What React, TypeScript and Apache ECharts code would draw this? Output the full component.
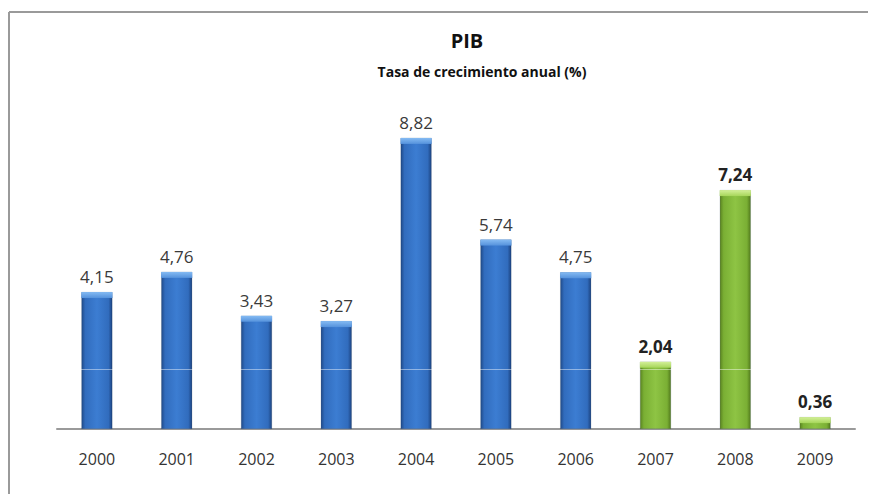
import React, { useEffect, useRef } from "react";
import * as echarts from "echarts";

const years = ["2000", "2001", "2002", "2003", "2004", "2005", "2006", "2007", "2008", "2009"];
const growth = [4.15, 4.76, 3.43, 3.27, 8.82, 5.74, 4.75, 2.04, 7.24, 0.36];
const highlighted = [false, false, false, false, false, false, false, true, true, true];
const titleText = "PIB";
const subtitleText = "Tasa de crecimiento anual (%)";
const glossLevel = 1.8;

const FONT = "'Open Sans', 'Noto Sans', sans-serif";

const blueFill = new echarts.graphic.LinearGradient(0, 0, 1, 0, [
  { offset: 0, color: "#204a88" },
  { offset: 0.12, color: "#316cbd" },
  { offset: 0.5, color: "#3c7dd2" },
  { offset: 0.88, color: "#316cbd" },
  { offset: 1, color: "#1c4380" },
]);
const greenFill = new echarts.graphic.LinearGradient(0, 0, 1, 0, [
  { offset: 0, color: "#5a8420" },
  { offset: 0.12, color: "#7aaf34" },
  { offset: 0.5, color: "#8ec444" },
  { offset: 0.88, color: "#7aaf34" },
  { offset: 1, color: "#527a1c" },
]);
const blueCap = new echarts.graphic.LinearGradient(0, 0, 0, 1, [
  { offset: 0, color: "#85bbf3" },
  { offset: 1, color: "#5592dc" },
]);
const greenCap = new echarts.graphic.LinearGradient(0, 0, 0, 1, [
  { offset: 0, color: "#d4f099" },
  { offset: 1, color: "#a6d65a" },
]);

const fmt = (v: number) => v.toFixed(2).replace(".", ",");

export default function App() {
  const ref = useRef<HTMLDivElement>(null);
  useEffect(() => {
    if (!ref.current) return;
    const chart = echarts.init(ref.current, undefined, { renderer: "svg" });
    const barData = growth.map((v, i) => ({
      value: v,
      itemStyle: { color: highlighted[i] ? greenFill : blueFill },
      label: highlighted[i]
        ? { fontWeight: "bold", color: "#222" }
        : { fontWeight: "normal", color: "#3a3a3a" },
    }));
    const capData = growth.map((v, i) => ({
      value: v,
      itemStyle: { color: highlighted[i] ? greenCap : blueCap },
    }));
    chart.setOption({
      animation: false,
      backgroundColor: "#fff",
      title: [
        {
          text: titleText,
          left: 462,
          top: 25,
          textAlign: "center",
          textStyle: { fontFamily: FONT, fontSize: 20, fontWeight: "bold", color: "#111" },
        },
        {
          text: subtitleText,
          left: 477,
          top: 59,
          textAlign: "center",
          textStyle: { fontFamily: FONT, fontSize: 14, fontWeight: "bold", color: "#111" },
        },
      ],
      graphic: [
        { type: "line", shape: { x1: 9, y1: 12, x2: 868, y2: 12 }, style: { stroke: "#9a9a9a", lineWidth: 2 } },
        { type: "line", shape: { x1: 9, y1: 12, x2: 9, y2: 494 }, style: { stroke: "#9a9a9a", lineWidth: 2 } },
      ],
      grid: { left: 57, right: 21, top: 99, bottom: 65 },
      xAxis: {
        type: "category",
        data: years,
        axisLine: { show: true, lineStyle: { color: "#9a9a9a", width: 2 } },
        axisTick: { show: false },
        axisLabel: { fontFamily: FONT, fontSize: 16, color: "#333", margin: 22 },
      },
      yAxis: {
        type: "value",
        min: 0,
        max: 10,
        show: false,
        splitLine: { show: false },
      },
      series: [
        {
          type: "bar",
          data: barData,
          barWidth: 31,
          itemStyle: { borderColor: "rgba(20,40,70,0.35)", borderWidth: 0.5 },
          label: {
            show: true,
            position: "top",
            distance: 7,
            fontFamily: FONT,
            fontSize: 17,
            formatter: (p: any) => fmt(p.value),
          },
          markLine: {
            silent: true,
            symbol: "none",
            label: { show: false },
            lineStyle: { color: "rgba(255,255,255,0.45)", width: 1, type: "solid" },
            data: [{ yAxis: glossLevel }],
          },
          z: 2,
        },
        {
          type: "pictorialBar",
          data: capData,
          symbol: "rect",
          symbolSize: [31, 6],
          symbolPosition: "end",
          z: 3,
        },
      ],
    });
    return () => chart.dispose();
  }, []);
  return <div ref={ref} style={{ position: "absolute", left: 0, top: 0, width: 876, height: 494 }} />;
}
